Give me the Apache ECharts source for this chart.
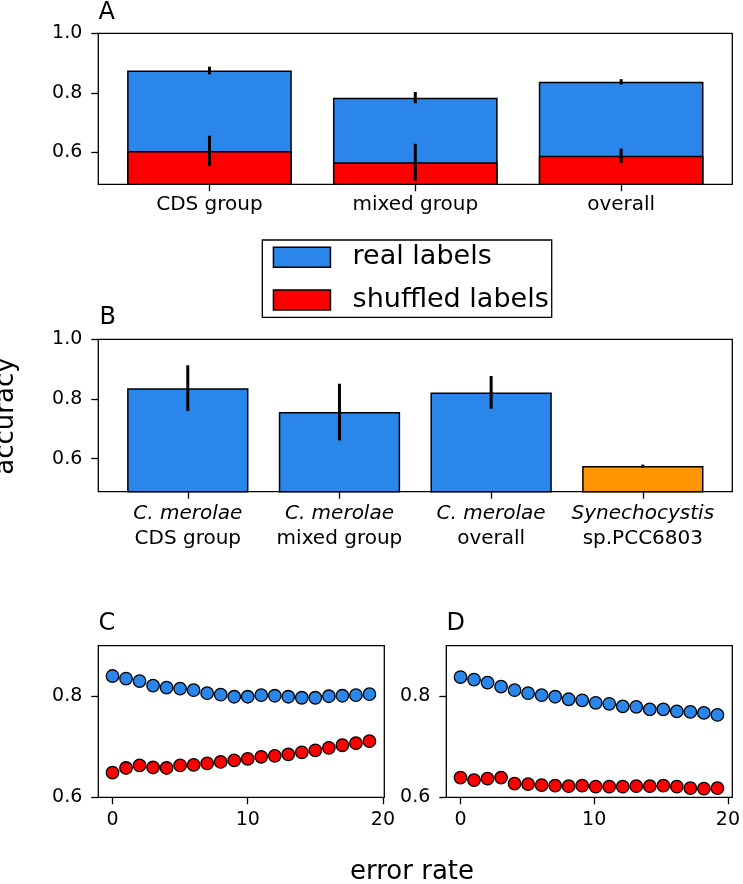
<!DOCTYPE html>
<html><head><meta charset="utf-8">
<script src="https://cdn.jsdelivr.net/npm/echarts@6/dist/echarts.min.js"></script>
<style>html,body{margin:0;padding:0;background:#fff}#c{width:743px;height:884px}</style>
</head><body><div id="c"></div>
<script>
// ---- data ----
const catsA = ['CDS group', 'mixed group', 'overall'];
const realA = [0.875, 0.784, 0.837];
const realErrA = [0.013, 0.019, 0.009];
const shufA = [0.605, 0.567, 0.589];
const shufErrA = [0.051, 0.062, 0.024];

const speciesB = ['C. merolae', 'C. merolae', 'C. merolae', 'Synechocystis'];
const groupB = ['CDS group', 'mixed group', 'overall', 'sp.PCC6803'];
const accB = [0.836, 0.756, 0.822, 0.575];
const errB = [0.077, 0.095, 0.055, 0.005];

const errorRate = [0, 1, 2, 3, 4, 5, 6, 7, 8, 9, 10, 11, 12, 13, 14, 15, 16, 17, 18, 19];
const cReal = [0.840, 0.835, 0.830, 0.821, 0.817, 0.815, 0.812, 0.806, 0.803, 0.799, 0.799, 0.802, 0.801, 0.799, 0.797, 0.797, 0.800, 0.801, 0.802, 0.804];
const cShuf = [0.649, 0.658, 0.663, 0.659, 0.658, 0.663, 0.664, 0.667, 0.670, 0.673, 0.676, 0.680, 0.682, 0.685, 0.689, 0.693, 0.698, 0.703, 0.707, 0.711];
const dReal = [0.838, 0.833, 0.827, 0.819, 0.812, 0.806, 0.802, 0.799, 0.794, 0.792, 0.787, 0.785, 0.780, 0.779, 0.774, 0.774, 0.770, 0.769, 0.767, 0.763];
const dShuf = [0.639, 0.634, 0.637, 0.639, 0.627, 0.626, 0.624, 0.623, 0.622, 0.623, 0.621, 0.621, 0.621, 0.622, 0.622, 0.623, 0.621, 0.618, 0.617, 0.618];

// tick ranges: [first tick, last tick, interval]
const yTicksAB = [0.6, 1.0, 0.2];
const yTicksCD = [0.6, 0.8, 0.2];
const xTicksA = [0, 2, 1];
const xTicksB = [0, 3, 1];
const xTicksCD = [0, 20, 10];

// ---- layout / style ----
const FONT = 'DejaVu Sans';
const BLUE = '#2b86ec', RED = '#ff0000', ORANGE = '#ff9500';
const frames = [
  {left: 98.3, top: 33.3, width: 634, height: 151, x: [-0.54, 2.54], y: [0.493, 1.0]},
  {left: 98.3, top: 339.3, width: 634, height: 152.4, x: [-0.59, 3.59], y: [0.489, 1.0]},
  {left: 98.3, top: 645.7, width: 286, height: 151.6, x: [-1.05, 20.1], y: [0.6, 0.9]},
  {left: 446.3, top: 645.7, width: 286, height: 151.6, x: [-1.05, 20.1], y: [0.6, 0.9]}
];
const tickSpec = [
  {x: xTicksA, y: yTicksAB, xl: {formatter: v => catsA[Math.round(v)], fontSize: 20, margin: 10}},
  {x: xTicksB, y: yTicksAB, xl: {formatter: v => { const i = Math.round(v); return '{i|' + speciesB[i] + '}\n' + groupB[i]; },
      fontSize: 20, lineHeight: 25, margin: 10,
      rich: {i: {fontStyle: 'italic', fontFamily: FONT, fontSize: 20, lineHeight: 25, color: '#000'}}}},
  {x: xTicksCD, y: yTicksCD, xl: {fontSize: 19, margin: 13}},
  {x: xTicksCD, y: yTicksCD, xl: {fontSize: 19, margin: 13}}
];

const grids = [], xAxes = [], yAxes = [];
const hidden = (gi, mn, mx) => ({gridIndex: gi, type: 'value', show: false, min: mn, max: mx});
// frame grids (data)
frames.forEach((f, i) => {
  grids.push({show: true, borderColor: '#000', borderWidth: 1.3, backgroundColor: 'transparent',
    left: f.left, top: f.top, width: f.width, height: f.height});
  xAxes.push(hidden(i, f.x[0], f.x[1]));
  yAxes.push(hidden(i, f.y[0], f.y[1]));
});
// tick grids (axis ticks & labels only, aligned with frame edges)
const tickStyle = () => ({show: true, length: 7, inside: false, lineStyle: {color: '#000', width: 1.3}});
frames.forEach((f, i) => {
  const t = tickSpec[i];
  const ux = f.width / (f.x[1] - f.x[0]);
  const uy = f.height / (f.y[1] - f.y[0]);
  // x ticks grid: spans first..last x tick, full frame height
  let gi = grids.length;
  grids.push({left: f.left + (t.x[0] - f.x[0]) * ux, width: (t.x[1] - t.x[0]) * ux, top: f.top, height: f.height});
  xAxes.push({gridIndex: gi, type: 'value', position: 'bottom', min: t.x[0], max: t.x[1], interval: t.x[2],
    axisLine: {show: false}, splitLine: {show: false}, axisTick: tickStyle(),
    axisLabel: Object.assign({color: '#000', fontFamily: FONT, hideOverlap: false}, t.xl)});
  yAxes.push(hidden(gi, 0, 1));
  // y ticks grid: full frame width, spans first..last y tick
  gi = grids.length;
  grids.push({left: f.left, width: f.width, top: f.top + (f.y[1] - t.y[1]) * uy, height: (t.y[1] - t.y[0]) * uy});
  xAxes.push(hidden(gi, 0, 1));
  yAxes.push({gridIndex: gi, type: 'value', position: 'left', min: t.y[0], max: t.y[1], interval: t.y[2],
    axisLine: {show: false}, splitLine: {show: false}, axisTick: tickStyle(),
    axisLabel: {color: '#000', fontFamily: FONT, fontSize: 19, margin: 16, formatter: v => v.toFixed(1)}});
});

function errSeries(xi, vals, errs) {
  return {
    type: 'custom', xAxisIndex: xi, yAxisIndex: xi, z: 5, silent: true,
    data: vals.map((v, i) => [i, v - errs[i], v + errs[i]]),
    renderItem: (params, api) => {
      const p1 = api.coord([api.value(0), api.value(1)]);
      const p2 = api.coord([api.value(0), api.value(2)]);
      return {type: 'line', shape: {x1: p1[0], y1: p1[1], x2: p2[0], y2: p2[1]}, style: {stroke: '#000', lineWidth: 3}};
    }
  };
}
function scatter(name, xi, vals, color) {
  return {name: name, type: 'scatter', xAxisIndex: xi, yAxisIndex: xi, symbol: 'circle', symbolSize: 12.5,
    data: vals.map((v, i) => [errorRate[i], v]),
    itemStyle: {color: color, borderColor: '#000', borderWidth: 1.3, opacity: 1}};
}

const barWA = 0.8 * frames[0].width / (frames[0].x[1] - frames[0].x[0]);
const barWB = 0.8 * frames[1].width / (frames[1].x[1] - frames[1].x[0]);
const barBorder = {borderColor: '#000', borderWidth: 1.5};

const txt = (text, x, y, size) => ({type: 'text', x: x, y: y,
  style: {text: text, fontSize: size, fontFamily: FONT, fill: '#000', align: 'left', verticalAlign: 'middle'}});

const option = {
  animation: false,
  backgroundColor: '#fff',
  grid: grids,
  xAxis: xAxes,
  yAxis: yAxes,
  legend: {
    data: ['real labels', 'shuffled labels'], orient: 'vertical', left: 262.3, top: 240,
    backgroundColor: '#fff', borderColor: '#000', borderWidth: 1.3,
    padding: [3.8, 3, 3.8, 10.4], itemWidth: 57, itemHeight: 20, itemGap: 15.7, icon: 'rect',
    itemStyle: {borderColor: '#000', borderWidth: 1.5},
    formatter: n => '  ' + n,
    textStyle: {color: '#000', fontFamily: FONT, fontSize: 27, lineHeight: 27}
  },
  graphic: [
    txt('A', 98.5, 12.5, 24),
    txt('B', 99.5, 318, 24),
    txt('C', 98.5, 624, 24),
    txt('D', 446.5, 624, 24),
    {type: 'text', x: 6, y: 416, rotation: Math.PI / 2,
      style: {text: 'accuracy', fontSize: 26, fontFamily: FONT, fill: '#000', align: 'center', verticalAlign: 'middle'}},
    {type: 'text', x: 412, y: 872,
      style: {text: 'error rate', fontSize: 26, fontFamily: FONT, fill: '#000', align: 'center', verticalAlign: 'middle'}}
  ],
  series: [
    {name: 'real labels', type: 'bar', xAxisIndex: 0, yAxisIndex: 0, barWidth: barWA, barGap: '-100%',
      data: realA.map((v, i) => [i, v]), itemStyle: Object.assign({color: BLUE}, barBorder)},
    {name: 'shuffled labels', type: 'bar', xAxisIndex: 0, yAxisIndex: 0, barWidth: barWA, barGap: '-100%',
      data: shufA.map((v, i) => [i, v]), itemStyle: Object.assign({color: RED}, barBorder)},
    errSeries(0, realA, realErrA),
    errSeries(0, shufA, shufErrA),
    {name: 'B', type: 'bar', xAxisIndex: 1, yAxisIndex: 1, barWidth: barWB,
      data: accB.map((v, i) => [i, v]),
      itemStyle: Object.assign({color: p => p.dataIndex === 3 ? ORANGE : BLUE}, barBorder)},
    errSeries(1, accB, errB),
    scatter('C real', 2, cReal, BLUE),
    scatter('C shuffled', 2, cShuf, RED),
    scatter('D real', 3, dReal, BLUE),
    scatter('D shuffled', 3, dShuf, RED)
  ]
};
const chart = echarts.init(document.getElementById('c'), null, {renderer: 'canvas'});
chart.setOption(option);
</script></body></html>
